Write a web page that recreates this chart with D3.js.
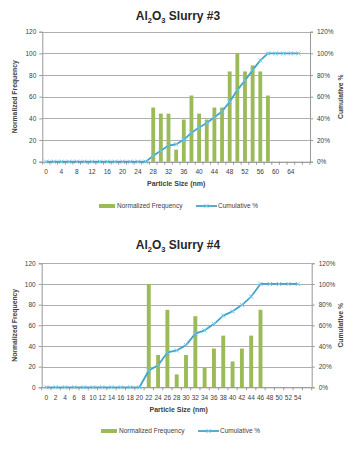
<!DOCTYPE html>
<html>
<head>
<meta charset="utf-8">
<script src="https://cdn.jsdelivr.net/npm/d3@7"></script>
<style>
  html, body { margin: 0; padding: 0; background: #fff; }
  svg { display: block; }
  text { font-family: "Liberation Sans", Arial, sans-serif; fill: #404040; }
</style>
</head>
<body>
<svg id="chart" width="355" height="456"></svg>
<script>
// ---------- Data: Slurry #3 ----------
const categories3 = ["0","2","4","6","8","10","12","14","16","18","20","22","24","26",
  "28","30","32","34","36","38","40","42","44","46","48","50","52","54","56","58",
  "60","62","64","66",""];
const frequency3 = [0,0,0,0,0,0,0,0,0,0,0,0,0,0,
  50,44.4,44.4,11.1,38.9,61.1,44.4,38.9,50,50,83.3,100,83.3,88.9,83.3,61.1,
  0,0,0,0,null];
const cumulative3 = [0,0,0,0,0,0,0,0,0,0,0,0,0,0,
  5.4,10.1,14.9,16.1,20.2,26.8,31.5,35.7,41.1,46.4,55.4,66.1,75,84.5,93.5,100,
  100,100,100,100,null];

// ---------- Data: Slurry #4 ----------
const categories4 = ["0","2","4","6","8","10","12","14","16","18","20",
  "22","24","26","28","30","32","34","36","38","40","42","44","46",
  "48","50","52","54",""];
const frequency4 = [0,0,0,0,0,0,0,0,0,0,0,
  100,31.3,75,12.5,31.3,68.8,18.8,37.5,50,25,37.5,50,75,
  0,0,0,0,null];
const cumulative4 = [0,0,0,0,0,0,0,0,0,0,0,
  16.3,21.4,33.7,35.7,40.8,52.0,55.1,61.2,69.4,73.5,79.6,87.8,100,
  100,100,100,100,null];

const leftTicks = [0,20,40,60,80,100,120];
const rightTicks = [0,20,40,60,80,100,120];
const titleNums = ["3","4"];
const seriesNames = ["Normalized Frequency","Cumulative %"];
const xTitle = "Particle Size (nm)";
const yTitle = "Normalized Frequency";
const y2Title = "Cumulative %";

const svg = d3.select("#chart");
const BAR = "#9BBB59", LINE = "#45A3CB", MARK = "#74CCE6", GRID = "#999999";

function drawChart(cfg) {
  const g = svg.append("g");
  const x = d3.scaleBand().domain(cfg.cats.map((c,i)=>i)).range([cfg.left, cfg.right]).paddingInner(0).paddingOuter(0);
  const y = d3.scaleLinear().domain([0,120]).range([cfg.bottom, cfg.top]);
  const y2 = d3.scaleLinear().domain([0,120]).range([cfg.bottom, cfg.top]);

  // title
  const t = g.append("text").attr("x", cfg.titleX).attr("y", cfg.titleY)
    .attr("text-anchor","middle").style("font-size","12px").style("font-weight","bold").style("fill","#262626");
  t.append("tspan").text("Al");
  t.append("tspan").attr("dy", 3).style("font-size","7.5px").text("2");
  t.append("tspan").attr("dy", -3).text("O");
  t.append("tspan").attr("dy", 3).style("font-size","7.5px").text("3");
  t.append("tspan").attr("dy", -3).text(" Slurry #" + cfg.num);

  // gridlines
  g.append("g").selectAll("line").data(leftTicks).join("line")
    .attr("x1", cfg.left).attr("x2", cfg.right)
    .attr("y1", d=>Math.round(y(d))+0.5).attr("y2", d=>Math.round(y(d))+0.5)
    .attr("stroke", GRID).attr("stroke-width", 0.8);

  // left axis
  const la = g.append("g").attr("transform", `translate(${cfg.left},0)`)
    .call(d3.axisLeft(y).tickValues(leftTicks).tickSize(3).tickPadding(3));
  la.select(".domain").attr("stroke", GRID);
  la.selectAll(".tick line").attr("stroke", GRID);
  la.selectAll("text").style("font-size","6.5px").style("fill","#404040").style("font-family","Liberation Sans, Arial, sans-serif");

  // right axis
  const ra = g.append("g").attr("transform", `translate(${cfg.right},0)`)
    .call(d3.axisRight(y2).tickValues(rightTicks).tickSize(3).tickPadding(4).tickFormat(d=>d+"%"));
  ra.select(".domain").attr("stroke", GRID);
  ra.selectAll(".tick line").attr("stroke", GRID);
  ra.selectAll("text").style("font-size","6.5px").style("fill","#404040").style("font-family","Liberation Sans, Arial, sans-serif");

  // bars
  g.append("g").selectAll("rect").data(cfg.freq.map((v,i)=>({v,i})).filter(d=>d.v>0)).join("rect")
    .attr("x", d=>x(d.i) + x.bandwidth()*(1-cfg.barFrac)/2)
    .attr("width", x.bandwidth()*cfg.barFrac)
    .attr("y", d=>y(d.v)).attr("height", d=>y(0)-y(d.v))
    .attr("fill", BAR);

  // bottom axis
  const xa = g.append("g").attr("transform", `translate(0,${cfg.bottom})`);
  xa.append("line").attr("x1", cfg.left).attr("x2", cfg.right).attr("y1",0.5).attr("y2",0.5).attr("stroke", GRID);
  const bounds = d3.range(cfg.cats.length+1).map(i=>cfg.left + i*x.bandwidth());
  xa.selectAll("line.tk").data(bounds).join("line").attr("class","tk")
    .attr("x1", d=>d).attr("x2", d=>d).attr("y1", 0).attr("y2", 3).attr("stroke", GRID);
  xa.selectAll("text").data(cfg.cats.map((c,i)=>({c,i})).filter(d=>d.i % cfg.labelStep === 0)).join("text")
    .attr("x", d=>x(d.i)+x.bandwidth()/2).attr("y", cfg.xLabelDy)
    .attr("text-anchor","middle").style("font-size","6.5px").text(d=>d.c);

  // axis titles
  g.append("text").attr("x", (cfg.left+cfg.right)/2 + cfg.xTitleShift).attr("y", cfg.xTitleY)
    .attr("text-anchor","middle").style("font-size","7px").style("font-weight","bold").text(xTitle);
  g.append("text").attr("transform", `translate(${cfg.yTitleX},${(cfg.top+cfg.bottom)/2}) rotate(-90)`)
    .attr("text-anchor","middle").style("font-size","6.8px").style("font-weight","bold").text(yTitle);
  g.append("text").attr("transform", `translate(${cfg.y2TitleX},${(cfg.top+cfg.bottom)/2}) rotate(-90)`)
    .attr("text-anchor","middle").style("font-size","6.8px").style("font-weight","bold").text(y2Title);

  // cumulative line
  const pts = cfg.cum.map((v,i)=>({v,i})).filter(d=>d.v!==null);
  const line = d3.line().x(d=>x(d.i)+x.bandwidth()/2).y(d=>y2(d.v));
  g.append("path").datum(pts).attr("d", line).attr("fill","none")
    .attr("stroke", LINE).attr("stroke-width", 1.8).attr("stroke-linejoin","round");
  const m = 2.1;
  g.append("g").selectAll("path").data(pts).join("path")
    .attr("d", d=>{const cx=x(d.i)+x.bandwidth()/2, cy=y2(d.v);
      return `M${cx-m},${cy-m}L${cx+m},${cy+m}M${cx-m},${cy+m}L${cx+m},${cy-m}`;})
    .attr("stroke", MARK).attr("stroke-width", 1).attr("fill","none");

  // legend
  const lg = g.append("g").attr("transform", `translate(0,${cfg.legendY})`);
  lg.append("rect").attr("x", cfg.legX).attr("y", -2).attr("width", 16).attr("height", 4).attr("fill", BAR);
  lg.append("text").attr("x", cfg.legX+18).attr("y", 2.3).style("font-size","6.5px").text(seriesNames[0]);
  lg.append("line").attr("x1", cfg.legX+97).attr("x2", cfg.legX+118).attr("y1",0).attr("y2",0)
    .attr("stroke", LINE).attr("stroke-width", 1.8);
  const lx = cfg.legX+107.5;
  lg.append("path").attr("d", `M${lx-m},${-m}L${lx+m},${m}M${lx-m},${m}L${lx+m},${-m}`)
    .attr("stroke", MARK).attr("stroke-width", 1);
  lg.append("text").attr("x", cfg.legX+119).attr("y", 2.3).style("font-size","6.5px").text(seriesNames[1]);
}

drawChart({num: titleNums[0], cats: categories3, freq: frequency3, cum: cumulative3,
  left: 42.3, right: 310, top: 31.7, bottom: 161.7, barFrac: 0.5, labelStep: 2,
  titleX: 178, titleY: 20, xLabelDy: 12.5, xTitleY: 186, xTitleShift: 0,
  yTitleX: 17, y2TitleX: 343, legendY: 206, legX: 99});

drawChart({num: titleNums[1], cats: categories4, freq: frequency4, cum: cumulative4,
  left: 41.7, right: 311.7, top: 263.3, bottom: 387.3, barFrac: 0.42, labelStep: 1,
  titleX: 178, titleY: 249, xLabelDy: 12.5, xTitleY: 412, xTitleShift: 2,
  yTitleX: 17, y2TitleX: 343, legendY: 431, legX: 101});
</script>
</body>
</html>
